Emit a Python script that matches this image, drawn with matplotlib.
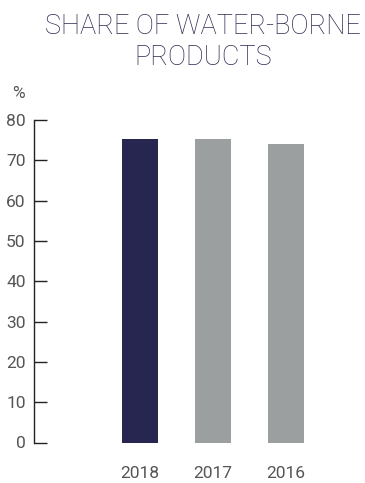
import matplotlib
matplotlib.use("Agg")
import matplotlib.pyplot as plt

categories = ["2018", "2017", "2016"]
values = [75.3, 75.3, 74.1]
colors = ["#262650", "#9c9fa0", "#9c9fa0"]
yticks = [0, 10, 20, 30, 40, 50, 60, 70, 80]

plt.rcParams['font.family'] = ['Roboto', 'DejaVu Sans']

W, H = 365, 483
fig = plt.figure(figsize=(W/100, H/100), dpi=100)
ax = fig.add_axes([34/W, (H-442.5)/H, (340-34)/W, 322.5/H])

x = list(range(len(categories)))
ax.bar(x, values, width=36/73, color=colors)
ax.set_xlim(-106/73, -106/73 + 306/73)
ax.set_ylim(0, 80)
ax.set_yticks(yticks)
ax.set_yticklabels([str(v) for v in yticks], fontsize=12.5, color="#555555")
ax.set_xticks(x)
ax.set_xticklabels(categories, fontsize=12.5, color="#555555")
ax.tick_params(axis='y', direction='in', length=9, width=1, pad=6, color="#222222")
ax.tick_params(axis='x', length=0, pad=17)
for s in ['top', 'right', 'bottom']:
    ax.spines[s].set_visible(False)
ax.spines['left'].set_color("#222222")
ax.spines['left'].set_linewidth(1)

fig.text(18/W, 1 - 94/H, "%", fontsize=12.5, color="#555555", ha='center', va='center')
fig.text(203/W, 1 - 42/H, "SHARE OF WATER-BORNE\nPRODUCTS", fontsize=19.5, color="#2c2c52",
         ha='center', va='center', fontweight="light", linespacing=1.15)

fig.savefig("out.png", dpi=100)
